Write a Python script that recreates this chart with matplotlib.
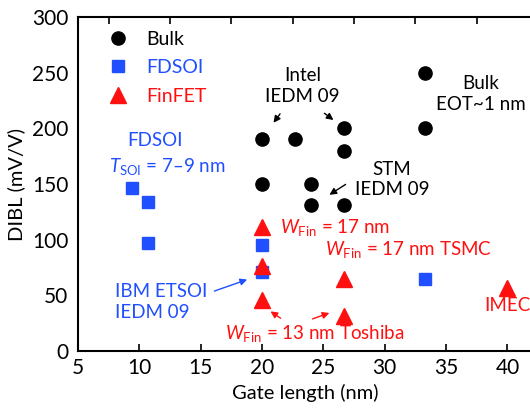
import matplotlib.pyplot as plt
from matplotlib.ticker import MultipleLocator

plt.rcParams['font.family'] = ['Lato', 'DejaVu Sans']
plt.rcParams['mathtext.fontset'] = 'custom'
plt.rcParams['mathtext.it'] = 'Lato:italic'
plt.rcParams['mathtext.rm'] = 'Lato'

# gate length (nm), DIBL (mV/V)
bulk_lg = [20, 20, 22.7, 26.7, 26.7, 24, 24, 26.7, 33.3, 33.3]
bulk_dibl = [190, 150, 190, 200, 180, 150, 131, 131, 250, 200]
fdsoi_lg = [9.4, 10.7, 10.7, 20, 20, 33.3]
fdsoi_dibl = [146, 134, 97, 95, 71, 65]
finfet_lg = [20, 20, 20, 26.7, 26.7, 40]
finfet_dibl = [111, 76, 46, 65, 31, 57]

black = "black"
blue = "#1f4fff"
red = "#ff1010"

fig = plt.figure(figsize=(5.3, 4.08), dpi=100)
ax = fig.add_axes([78 / 530, 57 / 408, 454 / 530, 334 / 408])

ax.plot(bulk_lg, bulk_dibl, "o", color=black, ms=9.5, ls="none", label="Bulk")
ax.plot(fdsoi_lg, fdsoi_dibl, "s", color=blue, ms=8.5, ls="none", label="FDSOI")
ax.plot(finfet_lg, finfet_dibl, "^", color=red, ms=11, ls="none", label="FinFET")

ax.set_xlim(5, 42)
ax.set_ylim(0, 300)
ax.xaxis.set_major_locator(MultipleLocator(5))
ax.yaxis.set_major_locator(MultipleLocator(50))
ax.set_xlabel("Gate length (nm)", fontsize=14.5, labelpad=4)
ax.set_ylabel("DIBL (mV/V)", fontsize=14.5, labelpad=5)
ax.tick_params(axis="both", labelsize=15, direction="in", width=1.2)
ax.tick_params(axis="y", length=0, pad=7)
ax.tick_params(axis="x", length=5, pad=5)
ax.tick_params(axis="x", which="minor", top=True, bottom=False, length=5,
               direction="in", width=1.2)
ax.xaxis.set_minor_locator(MultipleLocator(2.5))
for s in ax.spines.values():
    s.set_linewidth(1.5)

leg = ax.legend(loc="upper left", frameon=False, fontsize=14, handletextpad=0.45,
                labelspacing=0.6, borderaxespad=0.3, bbox_to_anchor=(0.015, 1.0),
                labelcolor="markerfacecolor")

fs = 13.5
ax.text(11.3, 189, "FDSOI", color=blue, fontsize=fs, ha="center", va="center")
ax.text(12.3, 166, r"$T_{\mathrm{SOI}}$ = 7–9 nm", color=blue, fontsize=fs,
        ha="center", va="center")
ax.text(23.3, 238, "Intel\nIEDM 09", color=black, fontsize=fs, ha="center",
        va="center", linespacing=1.25)
ax.text(37.8, 231, "Bulk\nEOT~1 nm", color=black, fontsize=fs, ha="center",
        va="center", linespacing=1.25)
ax.text(30.6, 154, "STM\nIEDM 09", color=black, fontsize=fs, ha="center",
        va="center", linespacing=1.25)
ax.text(21.5, 111, r"$W_{\mathrm{Fin}}$ = 17 nm", color=red, fontsize=fs,
        ha="left", va="center")
ax.text(25.1, 91, r"$W_{\mathrm{Fin}}$ = 17 nm TSMC", color=red, fontsize=fs,
        ha="left", va="center")
ax.text(40, 41, "IMEC", color=red, fontsize=fs, ha="center", va="center")
ax.text(17.0, 16, r"$W_{\mathrm{Fin}}$ = 13 nm Toshiba", color=red, fontsize=fs,
        ha="left", va="center")
ax.text(8.0, 44, "IBM ETSOI\nIEDM 09", color=blue, fontsize=fs, ha="left",
        va="center", linespacing=1.35)

arrow = dict(arrowstyle="-|>", lw=1.0, mutation_scale=10)
ax.annotate("", xy=(20.8, 203), xytext=(21.6, 215),
            arrowprops=dict(color=black, **arrow))
ax.annotate("", xy=(26.0, 206), xytext=(24.9, 215),
            arrowprops=dict(color=black, **arrow))
ax.annotate("", xy=(25.3, 139), xytext=(27.0, 151),
            arrowprops=dict(color=black, **arrow))
ax.annotate("", xy=(19.0, 65), xytext=(15.9, 53),
            arrowprops=dict(color=blue, **arrow))
ax.annotate("", xy=(20.5, 37), xytext=(21.7, 28),
            arrowprops=dict(color=red, **arrow))
ax.annotate("", xy=(25.7, 35), xytext=(23.9, 28),
            arrowprops=dict(color=red, **arrow))

fig.savefig("out.png", dpi=100)
